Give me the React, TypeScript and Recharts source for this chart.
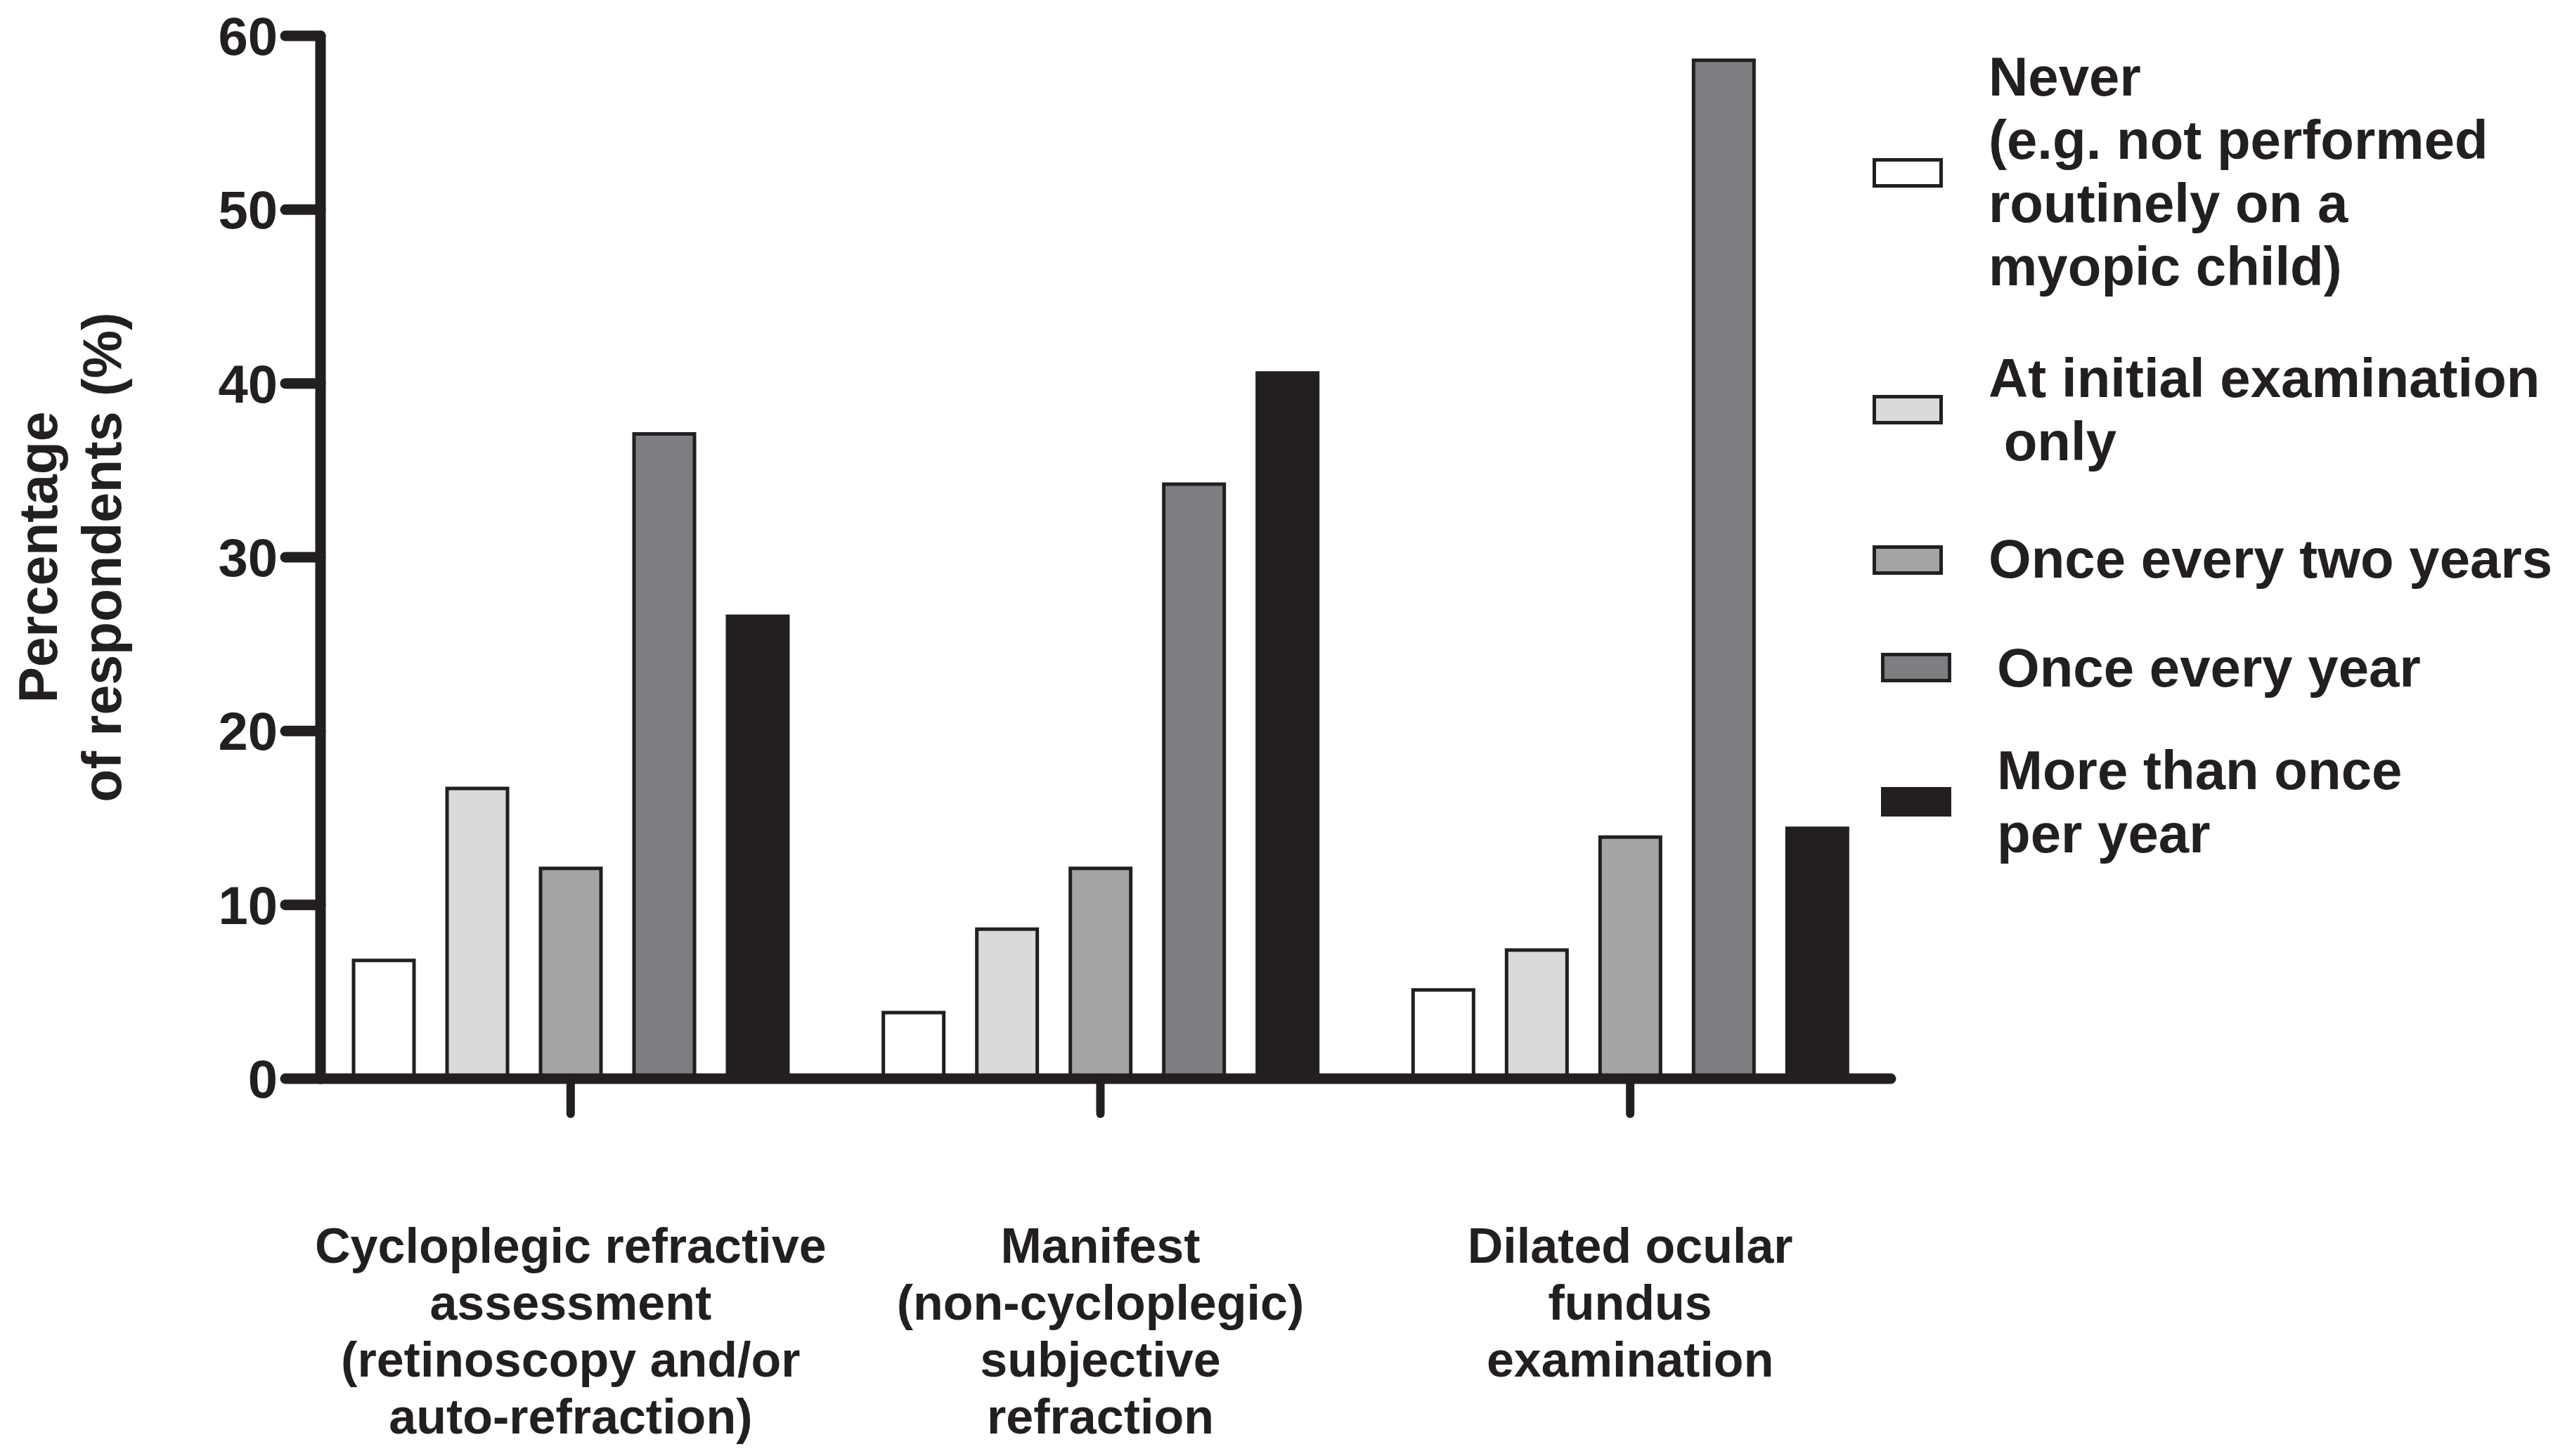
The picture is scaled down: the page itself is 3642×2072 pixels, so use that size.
import { BarChart, Bar, XAxis, YAxis } from 'recharts';

const categories = [
  'Cycloplegic refractive\nassessment\n(retinoscopy and/or\nauto-refraction)',
  'Manifest\n(non-cycloplegic)\nsubjective\nrefraction',
  'Dilated ocular\nfundus\nexamination',
];

const seriesNames = [
  'Never\n(e.g. not performed\nroutinely on a\nmyopic child)',
  'At initial examination\n only',
  'Once every two years',
  'Once every year',
  'More than once\nper year',
];

const never = [6.8, 3.8, 5.1];
const initialOnly = [16.7, 8.6, 7.4];
const everyTwoYears = [12.1, 12.1, 13.9];
const everyYear = [37.1, 34.2, 58.6];
const moreThanOnce = [26.6, 40.6, 14.4];

const yTicks = [0, 10, 20, 30, 40, 50, 60];

const seriesValues = [never, initialOnly, everyTwoYears, everyYear, moreThanOnce];
const fills = ['#ffffff', '#d9dadb', '#a3a4a6', '#7d7e82', '#231f20'];
const ink = '#231f20';
const font = '"Liberation Sans", Arial, sans-serif';

const data = categories.map((name, i) => {
  const row: Record<string, string | number> = { name };
  seriesValues.forEach((vals, s) => {
    row['s' + s] = vals[i];
  });
  return row;
});

// legend placement (page px)
const legendPos = [
  { sx: 2664, sy: 225, tx: 2829, ty: 64 },
  { sx: 2664, sy: 562, tx: 2829, ty: 493 },
  { sx: 2664, sy: 776, tx: 2829, ty: 750 },
  { sx: 2676, sy: 929, tx: 2841, ty: 905 },
  { sx: 2676, sy: 1120, tx: 2841, ty: 1051 },
];

function CategoryTick(props: any) {
  const { x, y, payload } = props;
  const lines = String(payload.value).split('\n');
  return (
    <text
      x={x}
      y={y}
      textAnchor="middle"
      fill={ink}
      style={{ fontFamily: font, fontWeight: 700, fontSize: 70 }}
    >
      {lines.map((l, i) => (
        <tspan key={i} x={x} dy={i === 0 ? 206 : 81}>
          {l}
        </tspan>
      ))}
    </text>
  );
}

function YLabel(props: any) {
  const { viewBox } = props;
  const cy = viewBox.y + viewBox.height / 2;
  const style = { fontFamily: font, fontWeight: 700, fontSize: 77 };
  return (
    <g>
      <text
        x={81}
        y={cy}
        transform={`rotate(-90 81 ${cy})`}
        textAnchor="middle"
        fill={ink}
        style={style}
      >
        Percentage
      </text>
      <text
        x={172}
        y={cy}
        transform={`rotate(-90 172 ${cy})`}
        textAnchor="middle"
        fill={ink}
        style={style}
      >
        of respondents (%)
      </text>
    </g>
  );
}

export default function App() {
  return (
    <div style={{ position: 'absolute', left: 0, top: 0, width: 3642, height: 2072, background: '#fff' }}>
      <BarChart
        width={3642}
        height={2072}
        data={data}
        margin={{ top: 51, right: 952, bottom: 0, left: 0 }}
        barSize={86}
        barGap={47}
      >
        <XAxis
          dataKey="name"
          interval={0}
          height={537}
          padding={{ left: -21, right: -6 }}
          tickSize={50}
          tickMargin={6}
          tick={<CategoryTick />}
          tickLine={{ stroke: ink, strokeWidth: 12, strokeLinecap: 'round' }}
          axisLine={{ stroke: ink, strokeWidth: 15, strokeLinecap: 'round' }}
        />
        <YAxis
          domain={[0, 60]}
          ticks={yTicks}
          width={456}
          tickSize={50}
          tickMargin={11}
          tick={{ fill: ink, fontFamily: font, fontWeight: 700, fontSize: 76 }}
          tickLine={{ stroke: ink, strokeWidth: 15, strokeLinecap: 'round' }}
          axisLine={{ stroke: ink, strokeWidth: 15, strokeLinecap: 'round' }}
          label={<YLabel />}
        />
        {seriesNames.map((n, s) => (
          <Bar
            key={n}
            dataKey={'s' + s}
            name={n}
            fill={fills[s]}
            stroke={ink}
            strokeWidth={5}
            isAnimationActive={false}
          />
        ))}
      </BarChart>
      {seriesNames.map((n, s) => (
        <div key={n}>
          <div
            style={{
              position: 'absolute',
              left: legendPos[s].sx,
              top: legendPos[s].sy,
              width: 100,
              height: 42,
              boxSizing: 'border-box',
              background: fills[s],
              border: `5px solid ${ink}`,
            }}
          />
          <div
            style={{
              position: 'absolute',
              left: legendPos[s].tx,
              top: legendPos[s].ty,
              whiteSpace: 'pre',
              fontFamily: font,
              fontWeight: 700,
              fontSize: 78,
              lineHeight: '90px',
              color: ink,
            }}
          >
            {n}
          </div>
        </div>
      ))}
    </div>
  );
}
